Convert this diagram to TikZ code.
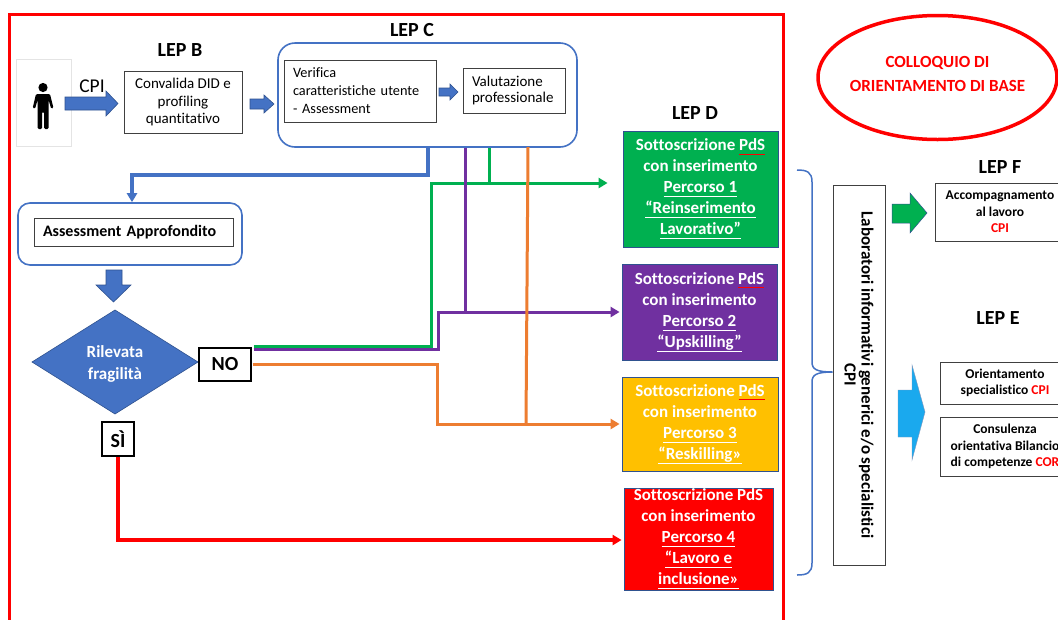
\documentclass[tikz,border=0pt]{standalone}
\usepackage{fontspec}
\setmainfont{Carlito}[Ligatures={NoCommon}]
\usetikzlibrary{arrows.meta}
\definecolor{cblue}{HTML}{4472C4}
\definecolor{cdblue}{HTML}{2F528F}
\definecolor{cgreen}{HTML}{00B050}
\definecolor{cpurple}{HTML}{7030A0}
\definecolor{corange}{HTML}{ED7D31}
\definecolor{cyellow}{HTML}{FFC000}
\definecolor{cred}{HTML}{FF0000}
\definecolor{ccyan}{HTML}{1AA9EE}
\definecolor{cgray}{HTML}{404040}
\definecolor{clight}{HTML}{E4E4E4}
\newcommand{\fs}[2]{\fontsize{#1}{#2}\selectfont}
\newcommand{\ulx}[1]{\underline{\smash{#1}\rule[-2.5pt]{0pt}{0pt}}}
\newcommand{\pds}{{\color{cred}\underline{\smash{\color{white}PdS}\rule[-2pt]{0pt}{0pt}}}}
\tikzset{
  plainbox/.style={draw=cgray, line width=0.8pt, inner sep=0pt, fill=white},
  lepdbox/.style={draw=cdblue, line width=0.8pt, inner sep=0pt, text=white,
    font=\bfseries\fs{17}{21}, align=center},
  leplabel/.style={font=\bfseries\fs{20}{24}},
  blockarrow/.style={fill=cblue, draw=cdblue, line width=0.6pt},
  conn/.style={line width=3pt, -{Triangle[length=9pt,width=10pt]}},
  stub/.style={line width=3pt},
  answer/.style={draw=black, line width=1.2pt, inner sep=0pt, fill=white, font=\bfseries\fs{20}{24}},
  rbox/.style={draw=cgray, line width=0.8pt, inner sep=0pt, fill=white, font=\bfseries\fs{13.5}{16.5}, align=center}
}
\begin{document}
\begin{tikzpicture}[x=1pt,y=-1pt]
\useasboundingbox (0,0) rectangle (1058,619);
\fill[white] (0,0) rectangle (1058,619);

% big red frame
\draw[cred, line width=3pt] (9.5,14.5) rectangle (783,700);

% person
\node[draw=clight, line width=0.8pt, minimum width=55pt, minimum height=87pt, inner sep=0pt] (person) at (43.5,102.5) {};
\fill[black] (43,87.5) circle (4.6);
\fill[black, rounded corners=1.2pt] (36,94) -- (50,94) -- (53.5,108) -- (51.2,108.8) -- (48.6,100) -- (48.6,129) -- (44.2,129) -- (44.2,112) -- (42,112) -- (42,129) -- (37.6,129) -- (37.6,100) -- (35,108.8) -- (32.7,108) -- cycle;

\node[font=\fs{19.5}{22}] (cpi) at (92,86) {CPI};
\fill[blockarrow] (65,97) -- (106,97) -- (106,91) -- (118,103.5) -- (106,116) -- (106,110) -- (65,110) -- cycle;

% LEP B
\node[leplabel] (lepB) at (180,50) {LEP B};
\node[plainbox, minimum width=118pt, minimum height=62pt, font=\fs{15}{17.5}, align=center] (conv) at (183,102) {Convalida DID e\\profiling\\quantitativo};
\fill[blockarrow] (250,99) -- (264,99) -- (264,95) -- (274,104) -- (264,113) -- (264,109) -- (250,109) -- cycle;

% LEP C
\node[leplabel] (lepClab) at (412,30) {LEP C};
\node[draw=cblue, line width=1.6pt, rounded corners=17pt, minimum width=299pt, minimum height=104pt, inner sep=0pt] (lepc) at (427.5,95) {};
\node[plainbox, minimum width=152pt, minimum height=62pt, text width=134pt, align=left, font=\fs{14.3}{18}] (verif) at (360,91) {Verifica\\caratteristiche utente\\- Assessment};
\fill[blockarrow] (439,88) -- (450,88) -- (450,84) -- (458,92) -- (450,100) -- (450,96) -- (439,96) -- cycle;
\node[plainbox, minimum width=102pt, minimum height=45pt, text width=84pt, align=left, font=\fs{15}{16.5}] (valut) at (514,90.5) {Valutazione\\professionale};

% Assessment approfondito
\node[draw=cblue, line width=1.6pt, rounded corners=12pt, minimum width=224pt, minimum height=62pt, inner sep=0pt] (ao) at (130,234) {};
\node[plainbox, minimum width=199pt, minimum height=28pt, text width=181pt, align=left, font=\bfseries\fs{16}{19}] (aoin) at (133.5,232) {Assessment Approfondito};
\fill[blockarrow] (106,270) -- (122,270) -- (122,285) -- (131,285) -- (113.5,302) -- (96,285) -- (106,285) -- cycle;

% diamond
\fill[cblue, draw=cdblue, line width=0.6pt] (115,310) -- (198,362) -- (115,414) -- (32,362) -- cycle;
\node[text=white, font=\bfseries\fs{17}{22}, align=center] (dia) at (115,364) {Rilevata\\fragilità};
\node[answer, minimum width=52pt, minimum height=33pt] (no) at (225,364.5) {NO};
\node[answer, minimum width=32pt, minimum height=34pt] (si) at (118,439) {SÌ};

% LEP D
\node[leplabel] (lepDlab) at (695,113) {LEP D};
\node[lepdbox, fill=cgreen, minimum width=155pt, minimum height=116pt] (g1) at (700.5,189) {Sottoscrizione \pds\\con inserimento\\\ulx{Percorso 1}\\\ulx{“Reinserimento}\\\ulx{Lavorativo”}};
\node[lepdbox, fill=cpurple, minimum width=155pt, minimum height=96pt] (p1) at (699.5,312) {Sottoscrizione \pds\\con inserimento\\\ulx{Percorso 2}\\\ulx{“Upskilling”}};
\node[lepdbox, fill=cyellow, minimum width=156pt, minimum height=94pt] (y1) at (700,424) {Sottoscrizione \pds\\con inserimento\\\ulx{Percorso 3}\\\ulx{“Reskilling»}};
\node[lepdbox, fill=cred, minimum width=149pt, minimum height=102pt] (r1) at (698.5,539) {Sottoscrizione \pds\\con inserimento\\\ulx{Percorso 4}\\\ulx{“Lavoro e}\\\ulx{inclusione»}};

% connectors
\coordinate (bx) at (428,0);
\coordinate (gx) at (489,0);
\coordinate (px) at (465,0);
\draw[conn, cblue, line width=3.2pt] (bx |- lepc.south) -- (428,175) -| ([xshift=2pt]ao.north);
\draw[stub, cgreen] (gx |- lepc.south) -- (489,183);
\draw[conn, cgreen] ([xshift=2pt,yshift=0.5pt]no.north east) -| (431,183) -- ([xshift=-15pt,yshift=6pt]g1.west);
\draw[stub, cpurple] (px |- lepc.south) -- (465,312);
\draw[conn, cpurple] ([xshift=2pt,yshift=-2pt]no.north east) -| (438,312) -- ([xshift=-2pt]p1.west);
\draw[stub, corange] (528,147) -- (526,424);
\draw[conn, corange] ([xshift=1pt]no.east) -| (437,424) -- ([xshift=-2pt]y1.west);
\draw[conn, cred, line width=3.3pt] (si.south) |- ([xshift=-2pt,yshift=-1pt]r1.west);

% right side
\draw[cred, line width=3.5pt] (937.5,77.5) ellipse (119.5 and 62);
\node[text=cred, font=\bfseries\fs{17}{24}, align=center] (coll) at (937.5,74) {COLLOQUIO DI\\ORIENTAMENTO DI BASE};

\node[draw=cgray, line width=0.8pt, minimum width=52pt, minimum height=380pt, inner sep=0pt] (lab) at (859,375) {};
\node[rotate=-90, font=\bfseries\fs{17}{17}, align=center] (labtext) at (lab.center) {Laboratori informativi generici e/o specialistici\\CPI};
\draw[cblue, line width=1.5pt] (797,170) .. controls (807,170) and (812,172) .. (812,182) -- (812,362) .. controls (812,369) and (816,372) .. (lab.west |- 0,372) .. controls (816,372) and (812,375) .. (812,382) -- (812,563) .. controls (812,573) and (807,575) .. (797,575);

\node[leplabel] (lepFlab) at (1000,167) {LEP F};
\fill[cgreen, draw=cdblue, line width=0.5pt] (892,204) -- (910,204) -- (910,193) -- (927,213) -- (910,233) -- (910,223) -- (892,223) -- cycle;
\node[rbox, minimum width=130pt, minimum height=58pt] (f1) at (1000,212) {Accompagnamento\\al lavoro\\\textcolor{cred}{CPI}};

\node[leplabel] (lepElab) at (998,318) {LEP E};
\fill[ccyan, draw=cdblue!60, line width=0.4pt] (898,390) -- (912,390) -- (912,365) -- (925,412) -- (912,460) -- (912,437) -- (898,437) -- cycle;
\node[rbox, minimum width=130pt, minimum height=42pt] (e1) at (1005,383) {Orientamento\\specialistico \textcolor{cred}{CPI}};
\node[rbox, minimum width=130pt, minimum height=59pt] (e2) at (1005,446.5) {Consulenza\\orientativa Bilancio\\di competenze \textcolor{cred}{COR}};
\end{tikzpicture}
\end{document}
